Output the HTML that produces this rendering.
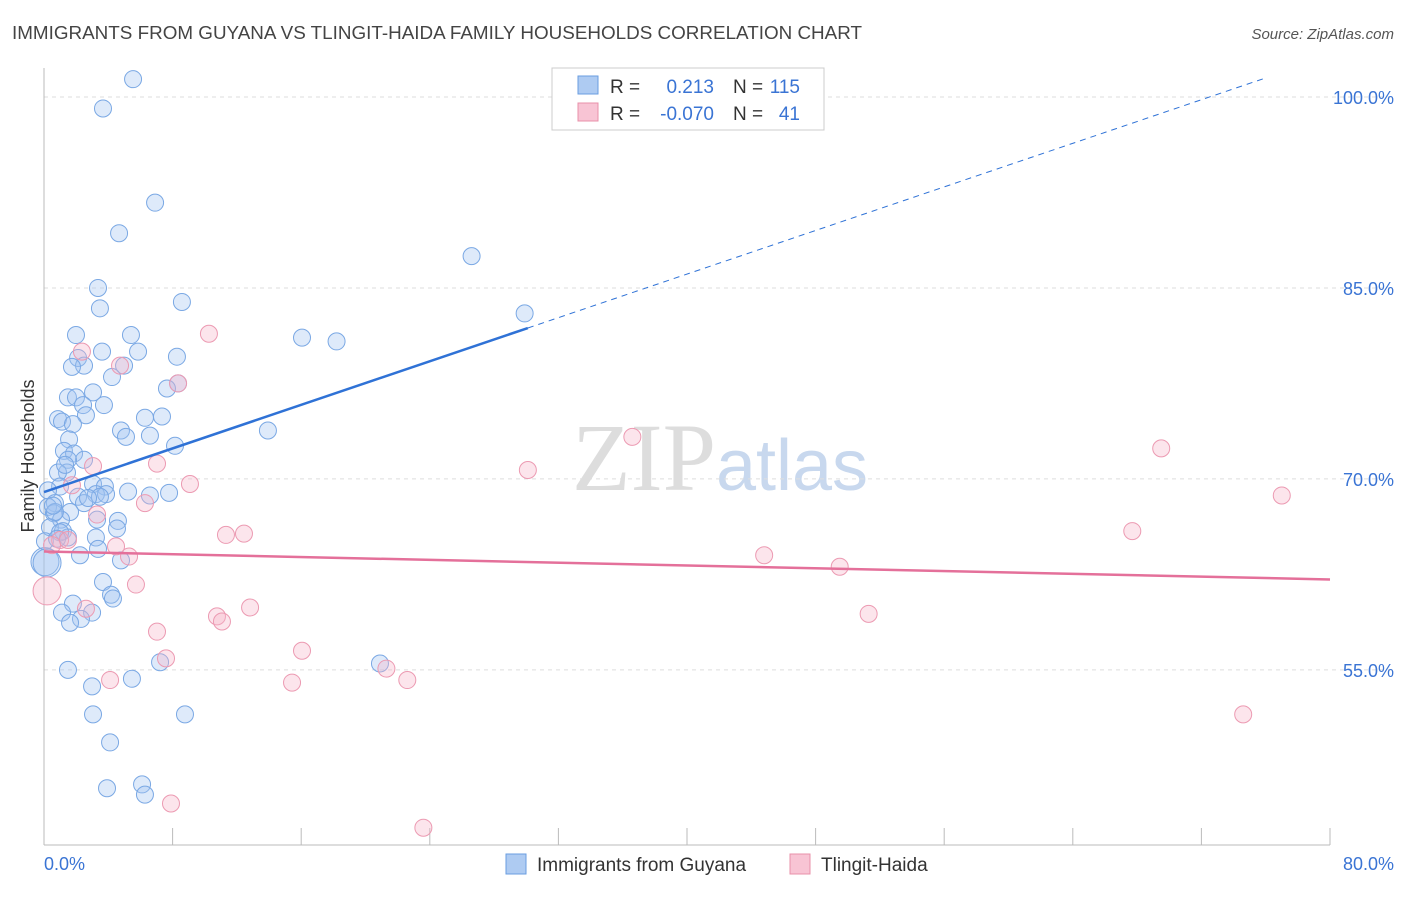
<!DOCTYPE html>
<html><head><meta charset="utf-8"><style>
body{margin:0;background:#fff;font-family:"Liberation Sans",sans-serif;}
svg text{font-family:"Liberation Sans",sans-serif;}
</style></head><body>
<svg id="chart" width="1406" height="892" xmlns="http://www.w3.org/2000/svg">
<text x="12" y="39" font-size="18.5" fill="#444" textLength="850" lengthAdjust="spacingAndGlyphs">IMMIGRANTS FROM GUYANA VS TLINGIT-HAIDA FAMILY HOUSEHOLDS CORRELATION CHART</text>
<text x="1394" y="39" font-size="15" fill="#555" text-anchor="end" font-style="italic">Source: ZipAtlas.com</text>
<text x="720" y="490" font-size="96" text-anchor="middle"><tspan fill="#ddd" font-family="Liberation Serif">ZIP</tspan><tspan fill="#c8d8ee" font-size="72">atlas</tspan></text>
<text transform="translate(34,456) rotate(-90)" font-size="18" fill="#333" text-anchor="middle">Family Households</text>
<g id="grid"></g><g id="axes"></g><g id="marks"></g>
<g>
<rect x="552" y="68" width="272" height="62" fill="#fff" stroke="#ccc"/>
<rect x="578" y="76" width="20" height="18" fill="#aecbf2" stroke="#6a9ee0"/>
<rect x="578" y="103" width="20" height="18" fill="#f8c4d4" stroke="#e890aa"/>
<text x="610" y="93" font-size="19" fill="#333">R =</text><text x="714" y="93" font-size="19" fill="#3a74d4" text-anchor="end">0.213</text>
<text x="733" y="93" font-size="19" fill="#333">N =</text><text x="800" y="93" font-size="19" fill="#3a74d4" text-anchor="end">115</text>
<text x="610" y="120" font-size="19" fill="#333">R =</text><text x="714" y="120" font-size="19" fill="#3a74d4" text-anchor="end">-0.070</text>
<text x="733" y="120" font-size="19" fill="#333">N =</text><text x="800" y="120" font-size="19" fill="#3a74d4" text-anchor="end">41</text>
</g>
<g>
<rect x="506" y="854" width="20" height="20" fill="#aecbf2" stroke="#6a9ee0"/>
<text x="537" y="871" font-size="19" fill="#333">Immigrants from Guyana</text>
<rect x="790" y="854" width="20" height="20" fill="#f8c4d4" stroke="#e890aa"/>
<text x="821" y="871" font-size="19" fill="#333">Tlingit-Haida</text>
</g>
</svg>
<script>
const blueX=[5.54,3.67,6.91,4.67,26.6,3.36,8.58,3.48,29.9,1.99,5.41,16.05,18.2,3.61,5.85,2.12,8.27,2.49,1.74,4.98,4.23,8.34,7.65,3.05,1.49,1.99,3.73,2.43,0.87,2.61,6.28,7.34,1.12,1.8,4.79,13.93,5.1,6.59,1.56,8.15,1.24,1.87,2.49,1.49,1.43,0.87,3.05,3.79,1.0,0.25,2.12,3.23,3.86,5.23,6.59,7.78,0.68,2.49,3.48,1.62,0.25,0.62,1.06,3.3,4.6,0.37,1.18,4.54,1.49,3.23,0.06,3.36,2.24,4.79,0.06,3.67,4.17,4.29,1.8,1.12,2.99,2.3,1.62,1.49,20.9,7.22,5.47,2.99,3.05,8.77,4.11,6.1,3.92,6.28,0.68,0.19,0.56,1.0,1.31,2.74,0.81];
const blueY=[101.4,99.1,91.7,89.3,87.5,85.0,83.9,83.4,83.0,81.3,81.3,81.1,80.8,80.0,80.0,79.5,79.6,78.9,78.8,78.9,78.0,77.5,77.1,76.8,76.4,76.4,75.8,75.8,74.7,75.0,74.8,74.9,74.5,74.3,73.8,73.8,73.3,73.4,73.1,72.6,72.2,72.0,71.5,71.5,70.5,70.5,69.6,69.4,69.4,69.1,68.6,68.8,68.8,69.0,68.7,68.9,68.1,68.1,68.6,67.4,67.8,67.3,66.8,66.8,66.7,66.2,65.9,66.1,65.4,65.4,65.1,64.5,64.0,63.6,63.5,61.9,60.9,60.6,60.2,59.5,59.5,59.0,58.7,55.0,55.5,55.6,54.3,53.7,51.5,51.5,49.3,46.0,45.7,45.2,67.4,63.4,67.9,65.8,71.1,68.5,65.3];
const pinkX=[2.36,10.26,4.73,8.34,3.05,7.03,30.1,36.6,69.5,77.0,6.28,9.08,3.3,1.0,1.49,11.32,12.44,4.48,5.29,44.8,49.5,67.7,5.72,0.19,2.61,10.76,11.07,12.82,51.3,7.03,16.05,7.59,21.3,4.11,15.43,22.6,74.6,7.9,23.6,0.5,1.74];
const pinkY=[80.0,81.4,78.9,77.5,71.0,71.2,70.7,73.3,72.4,68.7,68.1,69.6,67.2,65.2,65.2,65.6,65.7,64.7,63.9,64.0,63.1,65.9,61.7,61.2,59.8,59.2,58.8,59.9,59.4,58.0,56.5,55.9,55.1,54.2,54.0,54.2,51.5,44.5,42.6,64.8,69.5];
const yTicks=[100,85,70,55];
const yTickLabels=["100.0%","85.0%","70.0%","55.0%"];
const xTicks=[0,8,16,24,32,40,48,56,64,72,80];
const blueTrend=[68.97,0.428];  // intercept, slope
const pinkTrend=[64.3,-0.0275];
const NS="http://www.w3.org/2000/svg";
const X=v=>44+v*16.075, Y=v=>97+(100-v)*12.73;
function mk(p,t,a){const e=document.createElementNS(NS,t);for(const k in a)e.setAttribute(k,a[k]);p.appendChild(e);return e;}
const grid=document.getElementById('grid'),axes=document.getElementById('axes'),marks=document.getElementById('marks');
yTicks.forEach((t,i)=>{
 const l=mk(grid,'line',{x1:44,x2:1394,y1:Y(t),y2:Y(t),stroke:'#ddd','stroke-dasharray':'4,4'});
 
 
 const tx=mk(axes,'text',{x:1394,y:Y(t)+7,'font-size':18,fill:'#3a74d4','text-anchor':'end'});tx.textContent=yTickLabels[i];
 
 
});
mk(axes,'line',{x1:44,x2:44,y1:68,y2:845,stroke:'#bbb'});
mk(axes,'line',{x1:44,x2:1330,y1:845,y2:845,stroke:'#bbb'});
xTicks.forEach(t=>{const l=mk(axes,'line',{x1:X(t),x2:X(t),y1:828,y2:845,stroke:'#bbb'});
 
 });
let t0=mk(axes,'text',{x:44,y:870,'font-size':18,fill:'#3a74d4'});t0.textContent='0.0%';


let t1=mk(axes,'text',{x:1394,y:870,'font-size':18,fill:'#3a74d4','text-anchor':'end'});t1.textContent='80.0%';


blueX.forEach((v,i)=>{const big=(v<0.2&&blueY[i]<64);const c=mk(marks,'circle',{cx:X(v),cy:Y(blueY[i]),r:big?14:8.5,fill:'rgba(160,195,240,0.35)',stroke:'#7aa8e4','stroke-width':1});
 
 });
pinkX.forEach((v,i)=>{const big=(v<0.3&&pinkY[i]<62);const c=mk(marks,'circle',{cx:X(v),cy:Y(pinkY[i]),r:big?14:8.5,fill:'rgba(245,180,200,0.35)',stroke:'#ec9ab2','stroke-width':1});
 
 });
const bY=x=>blueTrend[0]+blueTrend[1]*x, pY=x=>pinkTrend[0]+pinkTrend[1]*x;
let b1=mk(marks,'line',{x1:X(0),y1:Y(bY(0)),x2:X(30.1),y2:Y(bY(30.1)),stroke:'#2f72d6','stroke-width':2.5});


const xe=(101.5-blueTrend[0])/blueTrend[1];
let b2=mk(marks,'line',{x1:X(30.1),y1:Y(bY(30.1)),x2:X(xe),y2:Y(bY(xe)),stroke:'#2f72d6','stroke-width':1,'stroke-dasharray':'6,5'});


let p1=mk(marks,'line',{x1:X(0),y1:Y(pY(0)),x2:X(80),y2:Y(pY(80)),stroke:'#e4709a','stroke-width':2.5});


</script>
</body></html>
